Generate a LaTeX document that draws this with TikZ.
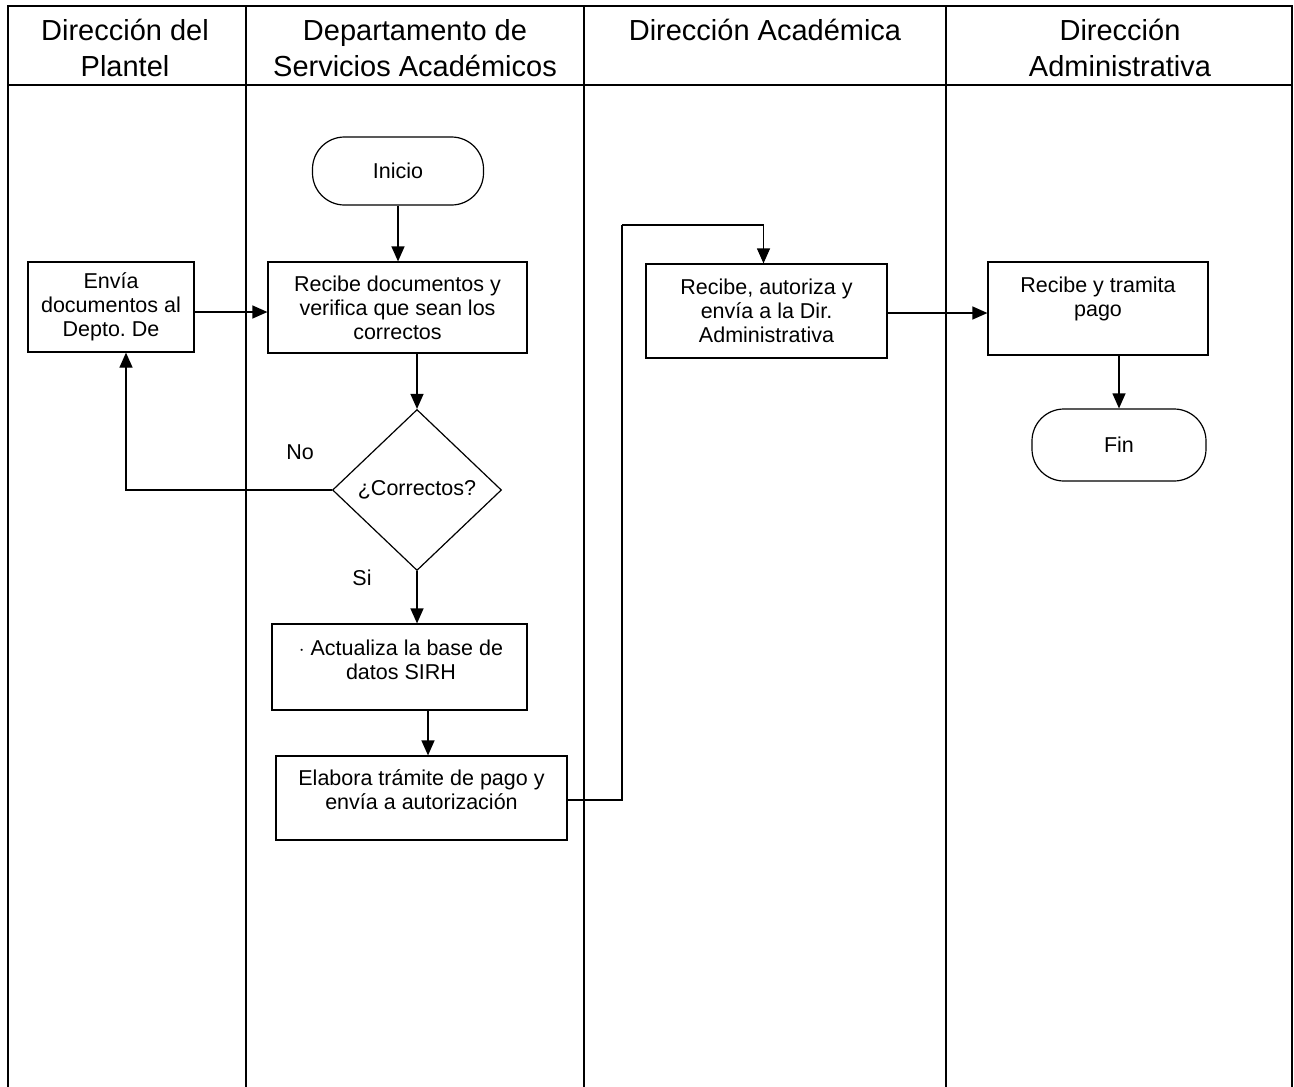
\documentclass[tikz,border=0pt]{standalone}
\usepackage{fontspec}
\setmainfont{Liberation Sans}
\frenchspacing
\usetikzlibrary{shapes.geometric,arrows.meta}
\begin{document}
\begin{tikzpicture}[x=1pt,y=-1pt,
  lane/.style={line width=1.3pt},
  box/.style={draw, line width=1.2pt, rectangle, inner sep=0pt, align=center, font=\fontsize{21.5}{24}\selectfont},
  txt/.style={align=center, inner sep=0pt, font=\fontsize{21.5}{24}\selectfont},
  head/.style={align=center, inner sep=0pt, font=\fontsize{29}{36}\selectfont},
  term/.style={draw, line width=1.2pt, rectangle, rounded corners=32pt, inner sep=0pt, font=\fontsize{21.5}{24}\selectfont},
  dec/.style={draw, line width=1.2pt, diamond, inner sep=0pt, font=\fontsize{21.5}{24}\selectfont},
  arr/.style={line width=1.2pt, -{Triangle[length=15pt,width=13pt]}},
  ln/.style={line width=1.2pt}
  ]
\useasboundingbox (0,0) rectangle (1294,1087);
% swimlanes
\draw[lane] (8,1087) -- (8,6) -- (1292,6) -- (1292,1087);
\draw[lane] (8,85) -- (1292,85);
\draw[lane] (246,6) -- (246,1087);
\draw[lane] (584,6) -- (584,1087);
\draw[lane] (946,6) -- (946,1087);
% headers
\node[head] (h1) at (125,48) {Dirección del\\Plantel};
\node[head] (h2) at (415,48) {Departamento de\\Servicios Académicos};
\node[head] (h3) at (765,30) {Dirección Académica};
\node[head] (h4) at (1120,48) {Dirección\\Administrativa};
% nodes
\node[term, minimum width=171pt, minimum height=68pt] (inicio) at (398,171) {Inicio};
\node[box, minimum width=166pt, minimum height=90pt] (envia) at (111,307) {Envía\\documentos al\\Depto. De};
\node[box, minimum width=259pt, minimum height=91pt] (recibe) at (397.5,307.5) {Recibe documentos y\\verifica que sean los\\correctos};
\node[dec, minimum width=169pt, minimum height=161pt] (dia) at (417,490) {¿Correctos?};
\node[box, minimum width=255pt, minimum height=86pt] (act) at (399.5,667) {};
\node[txt] (actt) at (401,660) {$\cdot$ Actualiza la base de\\datos SIRH};
\node[box, minimum width=291pt, minimum height=84pt] (elab) at (421.5,798) {};
\node[txt] (elabt) at (421.5,790) {Elabora trámite de pago y\\envía a autorización};
\node[box, minimum width=241pt, minimum height=94pt] (aut) at (766.5,311) {Recibe, autoriza y\\envía a la Dir.\\Administrativa};
\node[box, minimum width=220pt, minimum height=93pt] (tram) at (1098,308.5) {};
\node[txt] (tramt) at (1098,298.5) {Recibe y tramita\\pago};
\node[term, minimum width=174pt, minimum height=72pt] (fin) at (1119,445) {Fin};
% labels
\node[txt] (no) at (300,452) {No};
\node[txt] (si) at (362,578) {Si};
% connectors
\draw[arr] (inicio.south) -- (inicio.south |- recibe.north);
\draw[arr] ([yshift=-5pt]envia.east) -- ([yshift=-5pt]envia.east -| recibe.west);
\draw[arr] (dia.north |- recibe.south) -- (dia.north);
\draw[arr] (dia.west) -| ([xshift=15pt]envia.south);
\draw[arr] (dia.south) -- (dia.south |- act.north);
\draw[arr] ([xshift=6.5pt]elab.north |- act.south) -- ([xshift=6.5pt]elab.north);
\coordinate (c1) at (622,225);
\draw[ln] ([yshift=-2pt]elab.east) -| (c1);
\draw[arr] (c1) -| ([xshift=-3pt]aut.north);
\draw[arr] ([yshift=-2pt]aut.east) -- ([yshift=-2pt]aut.east -| tram.west);
\draw[arr] (fin.north |- tram.south) -- (fin.north);
\end{tikzpicture}
\end{document}
